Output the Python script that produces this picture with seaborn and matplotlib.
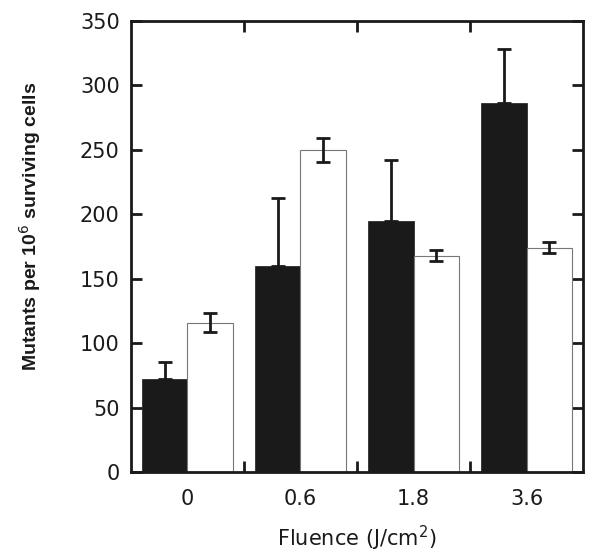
import numpy as np
import pandas as pd
import matplotlib
matplotlib.use('Agg')
import matplotlib.pyplot as plt
from matplotlib import font_manager
import seaborn as sns

# данные
fluence = ['0', '0.6', '1.8', '3.6']
black_vals = [72, 160, 195, 286]
black_err = [13, 53, 47, 42]
white_vals = [116, 250, 168, 174]
white_err = [7.5, 9.3, 4.5, 4.4]
groups = ['A', 'B']

df = pd.DataFrame({
    'fluence': fluence * 2,
    'group': [groups[0]] * 4 + [groups[1]] * 4,
    'value': black_vals + white_vals,
})

sns.set_style('ticks')
plt.rcParams['font.family'] = ['DejaVu Sans']

# жирный Liberation Sans (не Narrow)
bold_file = None
for f in font_manager.findSystemFonts():
    if f.endswith('LiberationSans-Bold.ttf'):
        bold_file = f
if bold_file:
    ylab_font = font_manager.FontProperties(fname=bold_file, size=14)
else:
    ylab_font = font_manager.FontProperties(family='DejaVu Sans', weight='bold', size=12.5)

fig = plt.figure(figsize=(6, 5.59), dpi=100)
ax = fig.add_axes([0.218, 0.1556, 0.754, 0.8068])

sns.barplot(data=df, x='fluence', y='value', hue='group', order=fluence,
            hue_order=groups, palette=['#1a1a1a', 'white'], width=0.8,
            errorbar=None, legend=False, saturation=1, ax=ax)

# контуры столбцов
for p in ax.patches[:4]:
    p.set_edgecolor('#1a1a1a')
    p.set_linewidth(0.5)
for p in ax.patches[4:8]:
    p.set_edgecolor('#777777')
    p.set_linewidth(0.8)

# усы ошибок
xb = [p.get_x() + p.get_width() / 2 for p in ax.patches[:4]]
xw = [p.get_x() + p.get_width() / 2 for p in ax.patches[4:8]]
ax.errorbar(xb, black_vals, yerr=[np.zeros(4), black_err], fmt='none',
            ecolor='#1a1a1a', elinewidth=2, capsize=5, capthick=2, zorder=5)
ax.errorbar(xw, white_vals, yerr=white_err, fmt='none',
            ecolor='#1a1a1a', elinewidth=2, capsize=5, capthick=2, zorder=5)

ax.set_xlim(-0.5, 3.5)
ax.set_ylim(0, 350)
ax.set_yticks(range(0, 351, 50))
ax.set_xticks([0.5, 1.5, 2.5], minor=True)

for s in ax.spines.values():
    s.set_visible(True)
    s.set_linewidth(2)
    s.set_color('#1a1a1a')

ax.tick_params(axis='y', which='major', direction='in', length=8, width=2,
               left=True, right=True, labelsize=15, pad=8, colors='#1a1a1a')
ax.tick_params(axis='x', which='major', length=0, labelsize=15, pad=12,
               colors='#1a1a1a')
ax.tick_params(axis='x', which='minor', direction='in', length=8, width=2,
               top=True, bottom=True, colors='#1a1a1a')

ax.set_xlabel('Fluence (J/cm$^2$)', fontsize=15, labelpad=11, color='#1a1a1a')
ax.set_ylabel('Mutants per 10$^6$ surviving cells', fontproperties=ylab_font,
              color='#1a1a1a')
ax.yaxis.set_label_coords(-0.195, 0.545)

plt.savefig('out.png', dpi=100)
